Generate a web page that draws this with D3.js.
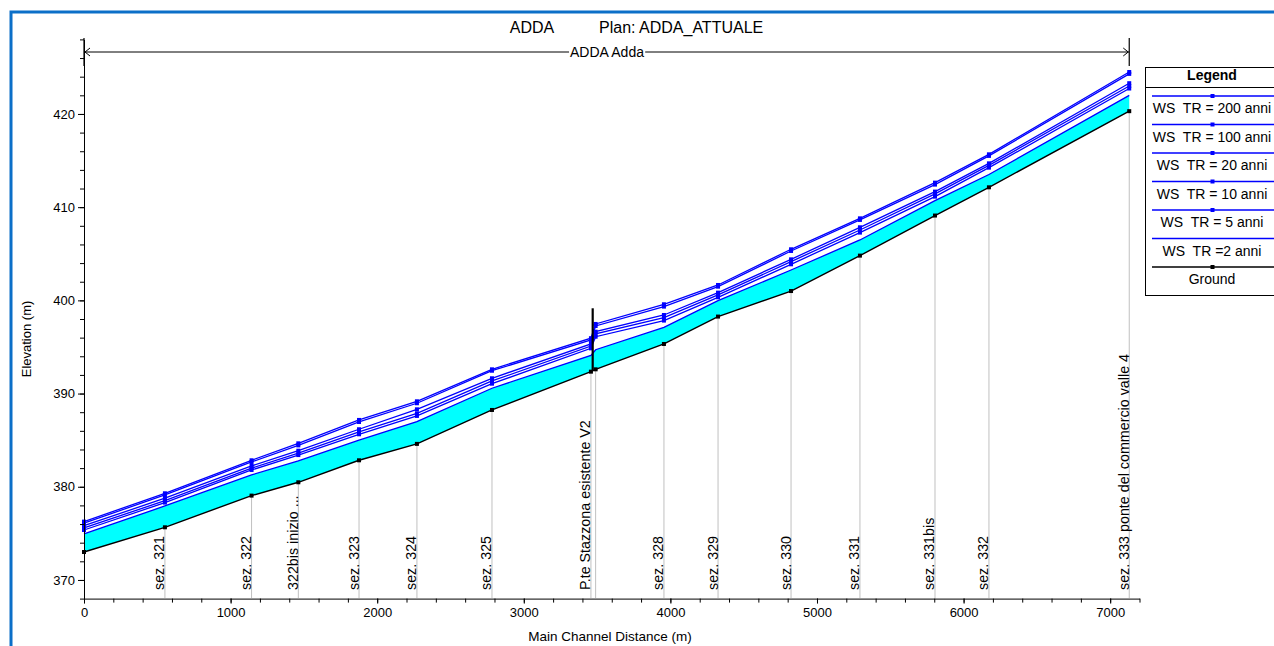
<!DOCTYPE html>
<html>
<head>
<meta charset="utf-8">
<script src="https://cdn.jsdelivr.net/npm/d3@7"></script>
<style>
  body { margin: 0; background: #fff; }
  svg { display: block; }
  text { font-family: Arial, "Liberation Sans", sans-serif; fill: #000; white-space: pre; }
</style>
</head>
<body>
<svg id="chart" width="1274" height="646"></svg>
<script>
// River stations (main channel distance, m) and section names
const stations = [0, 552, 1143, 1462, 1876, 2271, 2783, 3458, 3490, 3956, 4325, 4823, 5293, 5805, 6173, 7130];
const sectionLabels = ["", "sez. 321", "sez. 322", "322bis inizio ...", "sez. 323", "sez. 324", "sez. 325",
  "P.te Stazzona esistente V2", "", "sez. 328", "sez. 329", "sez. 330", "sez. 331", "sez. 331bis", "sez. 332",
  "sez. 333 ponte del commercio valle 4"];

// Thalweg elevation (m)
const ground = [373.0, 375.65, 379.05, 380.48, 382.84, 384.60, 388.24, 392.35, 392.60, 395.32, 398.26, 401.00, 404.80, 409.10, 412.13, 420.30];

// Water surface profiles (m) for each return period
const ws200 = [376.26, 379.30, 382.84, 384.66, 387.17, 389.17, 392.60, 395.94, 397.47, 399.58, 401.65, 405.48, 408.80, 412.63, 415.67, 424.50];
const ws100 = [376.10, 379.12, 382.66, 384.44, 386.95, 388.96, 392.45, 395.75, 397.25, 399.33, 401.47, 405.30, 408.63, 412.42, 415.50, 424.30];
const ws20  = [375.83, 378.77, 382.23, 383.87, 386.17, 388.31, 391.64, 395.32, 396.64, 398.43, 400.83, 404.40, 407.84, 411.67, 414.70, 423.30];
const ws10  = [375.58, 378.51, 382.00, 383.60, 385.88, 387.88, 391.35, 395.10, 396.40, 398.15, 400.58, 404.16, 407.55, 411.42, 414.49, 423.00];
const ws5   = [375.36, 378.30, 381.80, 383.40, 385.63, 387.60, 391.06, 394.85, 396.10, 397.83, 400.33, 403.87, 407.27, 411.13, 414.24, 422.73];
const ws2   = [374.94, 377.94, 381.27, 382.77, 385.00, 386.99, 390.57, 394.10, 394.70, 397.10, 399.97, 403.26, 406.48, 410.70, 413.50, 422.00];

// Bridge deck (P.te Stazzona)
const bridgeStation = 3470;
const bridgeDeck = 399.15;
const bridgeBed = 392.5;

// Axis ticks
const xTicks = [0, 1000, 2000, 3000, 4000, 5000, 6000, 7000];
const yTicks = [370, 380, 390, 400, 410, 420];

const legendNames = ["WS  TR = 200 anni", "WS  TR = 100 anni", "WS  TR = 20 anni", "WS  TR = 10 anni",
  "WS  TR = 5 anni", "WS  TR =2 anni", "Ground"];

const profiles = [ws200, ws100, ws20, ws10, ws5, ws2];

const svg = d3.select("#chart");

const x = d3.scaleLinear().domain([0, 7200]).range([84, 1139.5]);
const y = d3.scaleLinear().domain([368, 428]).range([598.6, 39.4]);

// outer frame
svg.append("rect").attr("x", 11).attr("y", 12).attr("width", 1300).attr("height", 700)
  .attr("fill", "none").attr("stroke", "#0b6fc8").attr("stroke-width", 3);

// title
svg.append("text").attr("x", 532).attr("y", 33).attr("text-anchor", "middle")
  .style("font-size", "16px").text("ADDA");
svg.append("text").attr("x", 599).attr("y", 33).attr("text-anchor", "start")
  .style("font-size", "16px").text("Plan: ADDA_ATTUALE");

// reach extent arrow
const reachY = 52;
const rx0 = x(stations[0]), rx1 = x(stations[stations.length - 1]);
const reach = svg.append("g");
reach.append("line").attr("x1", rx0).attr("x2", rx1).attr("y1", reachY).attr("y2", reachY)
  .attr("stroke", "#000").attr("stroke-width", 1);
[rx0, rx1].forEach(px => reach.append("line").attr("x1", px).attr("x2", px).attr("y1", 38).attr("y2", 66)
  .attr("stroke", "#000").attr("stroke-width", 1.2));
reach.append("path").attr("d", `M${rx0 + 6},${reachY - 4}L${rx0 + 1},${reachY}L${rx0 + 6},${reachY + 4}`)
  .attr("fill", "none").attr("stroke", "#000");
reach.append("path").attr("d", `M${rx1 - 6},${reachY - 4}L${rx1 - 1},${reachY}L${rx1 - 6},${reachY + 4}`)
  .attr("fill", "none").attr("stroke", "#000");
const reachLbl = reach.append("text").attr("x", 607).attr("y", reachY + 5).attr("text-anchor", "middle")
  .style("font-size", "14px").text("ADDA Adda");
const bb = reachLbl.node().getBBox();
reach.insert("rect", "text").attr("x", bb.x - 1).attr("y", bb.y + 2).attr("width", bb.width + 2).attr("height", bb.height - 4)
  .attr("fill", "#fff");

// section lines from bed to axis, with names
const sect = svg.append("g");
stations.forEach((s, i) => {
  if (i === 0) return;
  sect.append("line").attr("x1", x(s)).attr("x2", x(s)).attr("y1", y(ground[i])).attr("y2", 598)
    .attr("stroke", "#c0c0c0").attr("stroke-width", 1);
});
stations.forEach((s, i) => {
  if (!sectionLabels[i]) return;
  sect.append("text").attr("transform", `translate(${x(s) - 0.5},590) rotate(-90)`)
    .attr("text-anchor", "start").style("font-size", "14.3px").text(sectionLabels[i]);
});

// water body between bed and the lowest profile
const area = d3.area().x((d, i) => x(stations[i])).y0((d, i) => y(ground[i])).y1(d => y(d));
svg.append("path").datum(ws2).attr("d", area).attr("fill", "#00ffff");

// water surface profiles
const line = d3.line().x((d, i) => x(stations[i])).y(d => y(d));
profiles.forEach(p => {
  svg.append("path").datum(p).attr("d", line).attr("fill", "none").attr("stroke", "#0000ff").attr("stroke-width", 1.3);
});
profiles.slice(0, 5).forEach(p => {
  svg.append("g").selectAll("rect").data(p).join("rect")
    .attr("x", (d, i) => x(stations[i]) - 2).attr("y", d => y(d) - 2)
    .attr("width", 4).attr("height", 4).attr("fill", "#0000ff");
});

// bed profile
svg.append("path").datum(ground).attr("d", line).attr("fill", "none").attr("stroke", "#000").attr("stroke-width", 1.4);
svg.append("g").selectAll("rect").data(ground).join("rect")
  .attr("x", (d, i) => x(stations[i]) - 2).attr("y", d => y(d) - 2)
  .attr("width", 4).attr("height", 4).attr("fill", "#000");

// bridge deck
svg.append("line").attr("x1", x(bridgeStation)).attr("x2", x(bridgeStation))
  .attr("y1", y(bridgeDeck)).attr("y2", y(bridgeBed)).attr("stroke", "#000").attr("stroke-width", 2.2);

// axes
const axisFont = g => g.selectAll("text").style("font-size", "13px").attr("fill", "#000");
svg.append("g").attr("transform", "translate(0,598.6)")
  .call(d3.axisBottom(x).tickValues(xTicks).tickFormat(d3.format("d")).tickSize(5).tickSizeOuter(0).tickPadding(4))
  .call(axisFont);
svg.append("g").attr("transform", "translate(0,598.6)")
  .call(d3.axisBottom(x).tickValues(d3.range(0, 7201, 200)).tickSize(4).tickFormat("").tickSizeOuter(0))
  .call(g => g.select(".domain").remove());
svg.append("g").attr("transform", "translate(84,0)")
  .call(d3.axisLeft(y).tickValues(yTicks).tickFormat(d3.format("d")).tickSize(6).tickSizeOuter(0).tickPadding(3))
  .call(axisFont);
svg.append("g").attr("transform", "translate(84,0)")
  .call(d3.axisLeft(y).tickValues(d3.range(368, 429, 2)).tickSize(4).tickFormat("").tickSizeOuter(0))
  .call(g => g.select(".domain").remove());
svg.selectAll(".domain, .tick line").attr("stroke", "#000");

svg.append("text").attr("x", 610).attr("y", 641).attr("text-anchor", "middle")
  .style("font-size", "13.5px").text("Main Channel Distance (m)");
svg.append("text").attr("transform", "translate(31,339) rotate(-90)").attr("text-anchor", "middle")
  .style("font-size", "13px").text("Elevation (m)");

// legend
const lg = svg.append("g");
lg.append("rect").attr("x", 1145.5).attr("y", 67.5).attr("width", 140).attr("height", 228)
  .attr("fill", "#fff").attr("stroke", "#000");
lg.append("line").attr("x1", 1145.5).attr("x2", 1290).attr("y1", 87.5).attr("y2", 87.5).attr("stroke", "#000");
lg.append("text").attr("x", 1212).attr("y", 80).attr("text-anchor", "middle")
  .style("font-size", "14px").style("font-weight", "bold").text("Legend");
legendNames.forEach((name, i) => {
  const ly = 96 + i * 28.5;
  const col = i < 6 ? "#0000ff" : "#000";
  lg.append("line").attr("x1", 1152).attr("x2", 1290).attr("y1", ly).attr("y2", ly)
    .attr("stroke", col).attr("stroke-width", 1.3);
  if (i !== 5) {
    lg.append("rect").attr("x", 1210.5).attr("y", ly - 2).attr("width", 4).attr("height", 4).attr("fill", col);
  }
  lg.append("text").attr("x", 1212).attr("y", ly + 17).attr("text-anchor", "middle")
    .style("font-size", "14px").text(name);
});
</script>
</body>
</html>
